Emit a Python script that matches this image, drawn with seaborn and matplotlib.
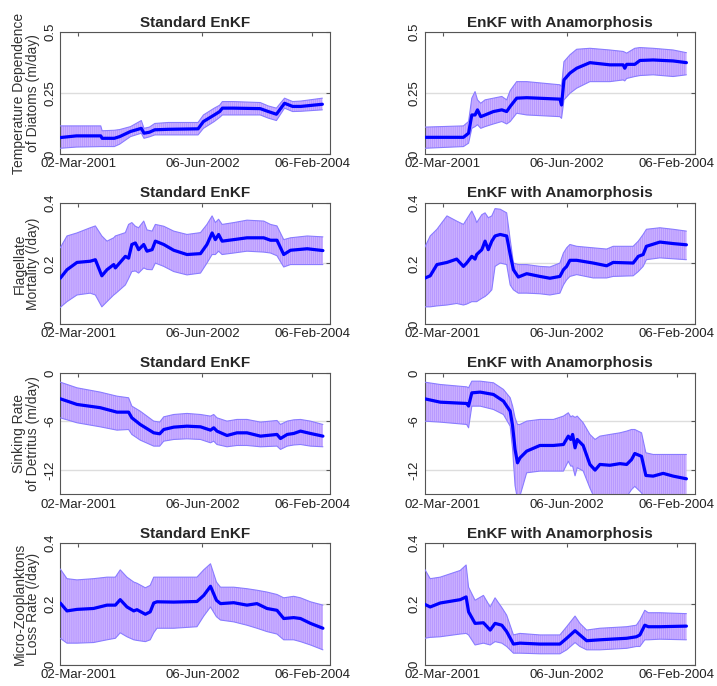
import numpy as np
import pandas as pd
import matplotlib
matplotlib.use('Agg')
import matplotlib.pyplot as plt
import seaborn as sns

# x is the assimilation step (0-100); tick labels mark the dates
tick_pos = [6.7, 52.6, 93.3]
tick_labels = ['02-Mar-2001', '06-Jun-2002', '06-Feb-2004']

# --- Temperature dependence of diatoms ---
temp_std_x = [0, 6, 15, 15.5, 20, 22, 26, 30, 31, 33, 35, 40, 51, 53, 57, 59, 60, 64, 74, 77, 80, 83, 86, 89, 97]
temp_std_mean = [0.067, 0.074, 0.074, 0.064, 0.064, 0.071, 0.092, 0.105, 0.085, 0.089, 0.099, 0.101, 0.103,
                 0.133, 0.160, 0.174, 0.188, 0.188, 0.186, 0.174, 0.163, 0.208, 0.195, 0.195, 0.204]
temp_std_lo = [0.023, 0.028, 0.030, 0.030, 0.030, 0.040, 0.071, 0.085, 0.064, 0.070, 0.078, 0.078, 0.078,
               0.105, 0.133, 0.150, 0.160, 0.160, 0.160, 0.147, 0.137, 0.188, 0.174, 0.175, 0.181]
temp_std_hi = [0.115, 0.115, 0.115, 0.095, 0.097, 0.100, 0.112, 0.137, 0.105, 0.110, 0.125, 0.129, 0.129,
               0.160, 0.188, 0.200, 0.215, 0.215, 0.211, 0.197, 0.188, 0.229, 0.215, 0.217, 0.229]

temp_ana_x = [0, 14.4, 16.3, 17.5, 18.7, 19.6, 20.8, 22.4, 25.5, 28.6, 30.4, 31.7, 34.1, 37.8, 50.1, 50.7,
              51.6, 53.8, 56.3, 61.2, 68.6, 73.5, 74.1, 74.8, 77.8, 79.7, 84.6, 92.0, 96.9]
temp_ana_mean = [0.068, 0.068, 0.085, 0.160, 0.160, 0.181, 0.153, 0.160, 0.174, 0.181, 0.174, 0.195, 0.229,
                 0.231, 0.225, 0.201, 0.304, 0.332, 0.352, 0.375, 0.366, 0.366, 0.352, 0.368, 0.368, 0.384,
                 0.386, 0.382, 0.375]
temp_ana_lo = [0.023, 0.030, 0.044, 0.105, 0.112, 0.120, 0.105, 0.112, 0.123, 0.133, 0.123, 0.133, 0.167,
               0.160, 0.153, 0.146, 0.222, 0.249, 0.270, 0.297, 0.297, 0.304, 0.300, 0.310, 0.318, 0.322,
               0.325, 0.318, 0.325]
temp_ana_hi = [0.110, 0.115, 0.133, 0.229, 0.256, 0.222, 0.208, 0.222, 0.229, 0.236, 0.222, 0.260, 0.297,
               0.297, 0.284, 0.277, 0.379, 0.407, 0.430, 0.434, 0.427, 0.421, 0.418, 0.414, 0.434, 0.437,
               0.434, 0.427, 0.416]

# --- Flagellate mortality ---
flag_std_x = [0, 2.5, 6.2, 11.1, 13.0, 15.4, 17.3, 19.8, 20.4, 24.1, 25.3, 26.5, 27.8, 29.0, 30.9, 32.1, 34.0,
              35.2, 38.3, 42.0, 46.9, 51.9, 54.3, 56.2, 57.4, 58.6, 59.9, 64.2, 69.1, 75.3, 77.8, 80.2, 82.7,
              85.2, 91.4, 97.2]
flag_std_mean = [0.151, 0.179, 0.203, 0.207, 0.212, 0.159, 0.179, 0.196, 0.185, 0.223, 0.217, 0.262, 0.267,
                 0.245, 0.262, 0.240, 0.245, 0.273, 0.262, 0.243, 0.229, 0.232, 0.262, 0.300, 0.278, 0.295,
                 0.273, 0.278, 0.284, 0.284, 0.276, 0.276, 0.229, 0.243, 0.248, 0.242]
flag_std_lo = [0.055, 0.074, 0.096, 0.102, 0.096, 0.057, 0.074, 0.096, 0.100, 0.129, 0.150, 0.173, 0.175,
               0.168, 0.185, 0.180, 0.179, 0.201, 0.190, 0.173, 0.162, 0.168, 0.201, 0.229, 0.229, 0.240,
               0.229, 0.234, 0.240, 0.237, 0.234, 0.225, 0.188, 0.196, 0.196, 0.196]
flag_std_hi = [0.251, 0.290, 0.300, 0.317, 0.323, 0.290, 0.273, 0.284, 0.290, 0.301, 0.328, 0.334, 0.322,
               0.317, 0.339, 0.310, 0.306, 0.328, 0.322, 0.306, 0.295, 0.301, 0.328, 0.356, 0.334, 0.345,
               0.328, 0.334, 0.342, 0.339, 0.328, 0.323, 0.278, 0.284, 0.290, 0.287]

flag_ana_x = [0, 2.1, 4.6, 8.3, 11.9, 14.4, 15.6, 17.5, 18.7, 19.3, 21.2, 22.4, 23.6, 24.9, 26.1, 28.0, 30.4,
              31.7, 32.9, 34.7, 37.8, 42.7, 46.4, 50.1, 51.4, 52.6, 53.8, 56.3, 62.4, 67.4, 69.8, 77.2, 79.1,
              80.9, 82.1, 87.1, 92.0, 96.9]
flag_ana_mean = [0.151, 0.159, 0.196, 0.203, 0.214, 0.190, 0.201, 0.223, 0.214, 0.229, 0.245, 0.273, 0.245,
                 0.273, 0.290, 0.295, 0.290, 0.229, 0.179, 0.155, 0.166, 0.157, 0.151, 0.157, 0.179, 0.190,
                 0.210, 0.210, 0.201, 0.192, 0.203, 0.201, 0.223, 0.229, 0.256, 0.270, 0.265, 0.261]
flag_ana_lo = [0.057, 0.057, 0.060, 0.063, 0.068, 0.063, 0.066, 0.074, 0.074, 0.074, 0.085, 0.091, 0.100,
               0.113, 0.190, 0.201, 0.196, 0.129, 0.113, 0.102, 0.102, 0.100, 0.096, 0.102, 0.129, 0.146,
               0.157, 0.163, 0.152, 0.152, 0.157, 0.159, 0.173, 0.190, 0.212, 0.218, 0.215, 0.212]
flag_ana_hi = [0.251, 0.290, 0.312, 0.356, 0.339, 0.328, 0.345, 0.372, 0.350, 0.334, 0.360, 0.366, 0.350,
               0.356, 0.380, 0.378, 0.366, 0.278, 0.201, 0.196, 0.196, 0.190, 0.188, 0.201, 0.234, 0.251,
               0.262, 0.256, 0.251, 0.247, 0.256, 0.256, 0.273, 0.295, 0.312, 0.317, 0.312, 0.306]

# --- Sinking rate of detritus ---
sink_std_x = [0, 6.2, 14.8, 21.0, 25.3, 26.5, 29.6, 34.6, 36.8, 38.3, 42.0, 46.9, 51.9, 55.6, 56.8, 58.0,
              61.7, 65.4, 69.1, 74.1, 80.2, 81.5, 84.0, 86.4, 88.9, 92.6, 97.2]
sink_std_mean = [-3.2, -3.9, -4.3, -4.85, -4.85, -5.55, -6.37, -7.4, -7.52, -6.99, -6.7, -6.58, -6.66, -7.07,
                 -6.78, -7.19, -7.73, -7.4, -7.4, -7.81, -7.6, -8.1, -7.6, -7.48, -7.19, -7.48, -7.81]
sink_std_lo = [-5.55, -6.16, -6.66, -7.07, -6.99, -7.6, -8.3, -9.04, -9.04, -8.43, -8.22, -8.14, -8.22, -8.63,
               -8.43, -8.84, -9.12, -8.96, -8.96, -9.12, -9.04, -9.45, -9.04, -8.9, -8.84, -9.04, -9.12]
sink_std_hi = [-1.15, -1.85, -2.38, -2.88, -3.08, -4.11, -4.73, -5.96, -6.08, -5.43, -5.14, -5.01, -5.14,
               -5.34, -5.14, -5.55, -5.96, -5.75, -5.75, -6.08, -5.88, -6.37, -5.96, -5.8, -5.75, -5.96, -6.37]

sink_ana_x = [0, 5.8, 15.6, 16.3, 17.5, 20.6, 25.5, 29.2, 31.7, 32.6, 33.5, 34.4, 35.3, 37.8, 42.7, 47.7, 51.4,
              53.2, 54.1, 54.8, 55.7, 56.5, 58.7, 61.2, 63.1, 64.9, 68.6, 72.3, 74.8, 76.6, 77.8, 80.3, 81.9,
              84.6, 88.3, 92.0, 96.9]
sink_ana_mean = [-3.2, -3.62, -3.78, -4.1, -2.47, -2.38, -2.67, -3.49, -4.73, -6.58, -9.45, -11.1, -10.5,
                 -9.66, -8.96, -8.96, -8.84, -7.81, -8.22, -7.6, -9.25, -8.22, -8.96, -11.3, -12.0, -11.3,
                 -11.4, -11.2, -11.3, -10.7, -9.95, -10.3, -12.66, -12.74, -12.4, -12.74, -13.07]
sink_ana_lo = [-5.96, -6.08, -6.37, -6.78, -4.11, -4.11, -4.52, -5.14, -6.58, -9.45, -13.9, -15.6, -15.2,
               -12.33, -12.12, -12.12, -12.12, -10.9, -11.5, -11.5, -12.7, -11.7, -12.1, -14.2, -15.6, -15.3,
               -15.4, -15.3, -15.3, -14.4, -14.0, -14.8, -16.0, -16.0, -16.0, -16.0, -16.0]
sink_ana_hi = [-1.15, -1.44, -1.73, -1.85, -1.03, -1.03, -1.23, -2.05, -3.08, -4.11, -5.55, -6.37, -6.37,
               -5.96, -5.75, -5.75, -5.34, -4.93, -5.43, -5.3, -5.5, -5.34, -6.16, -7.6, -8.22, -7.81,
               -7.6, -7.4, -7.19, -6.99, -6.99, -7.4, -9.86, -10.07, -10.07, -10.07, -10.07]

# --- Micro-zooplankton loss rate ---
zoo_std_x = [0, 2.5, 6.2, 12.3, 17.3, 20.4, 22.2, 24.7, 27.2, 28.4, 31.5, 33.3, 34.6, 35.8, 42.0, 50.6, 53.1,
             55.6, 57.8, 59.3, 64.2, 69.1, 72.8, 76.5, 80.2, 82.7, 86.4, 88.9, 92.6, 97.2]
zoo_std_mean = [0.203, 0.177, 0.182, 0.185, 0.196, 0.196, 0.214, 0.190, 0.177, 0.181, 0.166, 0.174, 0.203,
                0.207, 0.206, 0.208, 0.228, 0.258, 0.212, 0.201, 0.204, 0.196, 0.201, 0.185, 0.179, 0.152,
                0.155, 0.152, 0.136, 0.120]
zoo_std_lo = [0.087, 0.071, 0.071, 0.073, 0.082, 0.087, 0.105, 0.092, 0.082, 0.080, 0.076, 0.082, 0.105,
              0.120, 0.120, 0.125, 0.160, 0.190, 0.158, 0.147, 0.141, 0.130, 0.120, 0.109, 0.101, 0.082,
              0.082, 0.076, 0.065, 0.049]
zoo_std_hi = [0.315, 0.283, 0.279, 0.283, 0.288, 0.288, 0.312, 0.288, 0.272, 0.268, 0.253, 0.261, 0.288,
              0.288, 0.288, 0.288, 0.312, 0.332, 0.272, 0.255, 0.255, 0.250, 0.245, 0.239, 0.231, 0.220,
              0.225, 0.220, 0.207, 0.196]

zoo_ana_x = [0, 2.1, 5.8, 13.2, 15.4, 16.3, 18.7, 21.8, 24.3, 26.1, 28.6, 30.4, 32.9, 35.3, 42.7, 50.1, 52.6,
             55.7, 57.5, 60.0, 64.9, 74.8, 78.4, 79.7, 81.5, 82.8, 87.1, 96.9]
zoo_ana_mean = [0.199, 0.190, 0.203, 0.214, 0.223, 0.174, 0.136, 0.138, 0.114, 0.136, 0.130, 0.109, 0.068,
                0.071, 0.068, 0.068, 0.087, 0.112, 0.098, 0.079, 0.082, 0.087, 0.092, 0.098, 0.130, 0.125,
                0.125, 0.127]
zoo_ana_lo = [0.087, 0.090, 0.092, 0.101, 0.103, 0.098, 0.065, 0.071, 0.065, 0.076, 0.071, 0.060, 0.038,
              0.038, 0.036, 0.036, 0.049, 0.073, 0.060, 0.049, 0.049, 0.054, 0.060, 0.060, 0.082, 0.082,
              0.084, 0.082]
zoo_ana_hi = [0.315, 0.283, 0.288, 0.310, 0.328, 0.255, 0.212, 0.228, 0.190, 0.220, 0.188, 0.163, 0.098,
              0.103, 0.098, 0.098, 0.125, 0.160, 0.136, 0.114, 0.120, 0.125, 0.130, 0.147, 0.179, 0.171,
              0.171, 0.168]

rows = [
    ('Temperature Dependence\nof Diatoms (m/day)', (0, 0.5), [0, 0.25, 0.5], ['0', '0.25', '0.5'],
     (temp_std_x, temp_std_mean, temp_std_lo, temp_std_hi),
     (temp_ana_x, temp_ana_mean, temp_ana_lo, temp_ana_hi)),
    ('Flagellate\nMortality (/day)', (0, 0.4), [0, 0.2, 0.4], ['0', '0.2', '0.4'],
     (flag_std_x, flag_std_mean, flag_std_lo, flag_std_hi),
     (flag_ana_x, flag_ana_mean, flag_ana_lo, flag_ana_hi)),
    ('Sinking Rate\nof Detritus (m/day)', (-15, 0), [-12, -6, 0], ['-12', '-6', '0'],
     (sink_std_x, sink_std_mean, sink_std_lo, sink_std_hi),
     (sink_ana_x, sink_ana_mean, sink_ana_lo, sink_ana_hi)),
    ('Micro-Zooplanktons\nLoss Rate (/day)', (0, 0.4), [0, 0.2, 0.4], ['0', '0.2', '0.4'],
     (zoo_std_x, zoo_std_mean, zoo_std_lo, zoo_std_hi),
     (zoo_ana_x, zoo_ana_mean, zoo_ana_lo, zoo_ana_hi)),
]
titles = ['Standard EnKF', 'EnKF with Anamorphosis']

sns.set_style('white')
plt.rcParams['font.family'] = ['Liberation Sans', 'DejaVu Sans']
plt.rcParams['hatch.linewidth'] = 0.4

fig, axes = plt.subplots(4, 2, figsize=(7.17, 6.86), dpi=100)
fig.subplots_adjust(left=0.084, right=0.969, bottom=0.031, top=0.953, wspace=0.348, hspace=0.40)

for r, (ylabel, ylim, yticks, yticklabels, std, ana) in enumerate(rows):
    for c, series in enumerate([std, ana]):
        ax = axes[r, c]
        x, mean, lo, hi = series
        df = pd.DataFrame({'step': x, 'mean': mean, 'lo': lo, 'hi': hi})
        # spread band with fine vertical hatching (ensemble error bars)
        ax.fill_between(df['step'], df['lo'], df['hi'], facecolor='#cbb0ff',
                        edgecolor='#a98aff', hatch='||||||||', linewidth=0, zorder=2)
        sns.lineplot(data=df, x='step', y='lo', ax=ax, color='#8a7cff', linewidth=0.8, zorder=3)
        sns.lineplot(data=df, x='step', y='hi', ax=ax, color='#8a7cff', linewidth=0.8, zorder=3)
        sns.lineplot(data=df, x='step', y='mean', ax=ax, color='#0000ff', linewidth=2.3, zorder=4)

        ax.set_xlim(0, 100)
        ax.set_ylim(*ylim)
        ax.set_xticks(tick_pos)
        ax.set_xticklabels(tick_labels, fontsize=9.5, color='#222222')
        ax.set_yticks(yticks)
        ax.set_yticklabels(yticklabels, fontsize=9.5, rotation=90, va='center', color='#222222')
        ax.yaxis.grid(True, color='#dddddd', linewidth=1.0, zorder=0)
        ax.xaxis.grid(False)
        ax.set_axisbelow(True)
        ax.tick_params(direction='in', top=True, right=True, length=3, width=0.8, color='#555555', pad=3)
        for sp in ax.spines.values():
            sp.set_color('#555555')
            sp.set_linewidth(0.8)
        ax.set_xlabel('')
        ax.set_title(titles[c], fontsize=11, fontweight='bold', pad=4)
        if c == 0:
            ax.set_ylabel(ylabel, fontsize=10, color='#333333', labelpad=3, linespacing=0.95)
        else:
            ax.set_ylabel('')

fig.savefig('out.png', dpi=100)
